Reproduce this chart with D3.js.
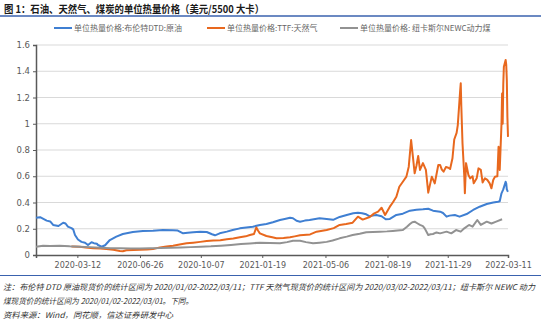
<!DOCTYPE html>
<html>
<head>
<meta charset="utf-8">
<script src="https://cdn.jsdelivr.net/npm/d3@7/dist/d3.min.js"></script>
<style>
  html, body { margin: 0; padding: 0; background: #fff; }
  svg { display: block; }
  text { font-family: "Noto Sans CJK SC", "Noto Sans", sans-serif; }
</style>
</head>
<body>
<svg id="chart" width="550" height="332"></svg>
<script>
// ---- data: per-unit-heat prices (USD per 5500 kcal) ----
const brentDates = ["2020-01-02","2020-01-09","2020-01-20","2020-01-26","2020-01-31","2020-02-09","2020-02-17","2020-02-21","2020-02-25","2020-03-02","2020-03-05","2020-03-08","2020-03-13","2020-03-19","2020-03-25","2020-03-30","2020-04-05","2020-04-09","2020-04-14","2020-04-16","2020-04-22","2020-04-28","2020-05-06","2020-05-17","2020-05-28","2020-06-14","2020-07-01","2020-07-18","2020-08-04","2020-08-21","2020-08-29","2020-09-07","2020-09-15","2020-09-24","2020-10-06","2020-10-17","2020-10-26","2020-10-31","2020-11-08","2020-11-20","2020-11-30","2020-12-12","2020-12-23","2021-01-03","2021-01-15","2021-01-26","2021-02-06","2021-02-18","2021-02-26","2021-03-07","2021-03-12","2021-03-18","2021-03-24","2021-04-01","2021-04-09","2021-04-26","2021-05-08","2021-05-19","2021-05-30","2021-06-11","2021-06-22","2021-06-30","2021-07-07","2021-07-14","2021-07-20","2021-07-25","2021-07-31","2021-08-09","2021-08-16","2021-08-23","2021-09-03","2021-09-14","2021-09-26","2021-10-07","2021-10-18","2021-10-27","2021-11-04","2021-11-16","2021-11-21","2021-11-27","2021-12-02","2021-12-11","2021-12-19","2021-12-31","2022-01-11","2022-01-22","2022-02-03","2022-02-14","2022-02-22","2022-02-25","2022-02-28","2022-03-03","2022-03-07","2022-03-08","2022-03-09","2022-03-10","2022-03-11"];
const brentValues = [0.283,0.288,0.262,0.256,0.229,0.221,0.246,0.240,0.216,0.205,0.195,0.152,0.118,0.100,0.094,0.076,0.097,0.090,0.086,0.076,0.063,0.074,0.114,0.140,0.160,0.176,0.183,0.185,0.190,0.188,0.186,0.165,0.170,0.173,0.178,0.175,0.158,0.150,0.165,0.178,0.190,0.203,0.210,0.216,0.228,0.236,0.250,0.267,0.275,0.284,0.280,0.261,0.254,0.262,0.267,0.280,0.275,0.268,0.290,0.305,0.318,0.322,0.318,0.310,0.295,0.300,0.305,0.295,0.272,0.275,0.305,0.315,0.338,0.345,0.348,0.352,0.338,0.330,0.320,0.292,0.300,0.305,0.292,0.312,0.343,0.368,0.389,0.400,0.406,0.410,0.470,0.500,0.558,0.545,0.500,0.490,0.482];

const ttfDates = ["2020-03-02","2020-03-16","2020-03-26","2020-04-08","2020-04-20","2020-04-30","2020-05-12","2020-05-23","2020-05-28","2020-06-03","2020-06-15","2020-06-26","2020-07-08","2020-07-18","2020-07-30","2020-08-10","2020-08-21","2020-09-01","2020-09-13","2020-09-24","2020-10-06","2020-10-17","2020-10-28","2020-11-09","2020-11-20","2020-12-01","2020-12-12","2020-12-22","2020-12-29","2021-01-05","2021-01-09","2021-01-12","2021-01-15","2021-01-26","2021-02-05","2021-02-12","2021-02-24","2021-03-07","2021-03-15","2021-03-24","2021-04-10","2021-04-21","2021-05-08","2021-05-20","2021-05-30","2021-06-10","2021-06-21","2021-06-30","2021-07-08","2021-07-20","2021-07-27","2021-08-03","2021-08-09","2021-08-15","2021-08-23","2021-08-28","2021-09-03","2021-09-08","2021-09-14","2021-09-20","2021-09-24","2021-09-28","2021-10-01","2021-10-04","2021-10-07","2021-10-10","2021-10-13","2021-10-18","2021-10-23","2021-10-27","2021-11-02","2021-11-07","2021-11-13","2021-11-16","2021-11-19","2021-11-22","2021-11-26","2021-11-30","2021-12-03","2021-12-07","2021-12-10","2021-12-14","2021-12-16","2021-12-20","2021-12-21","2021-12-22","2021-12-24","2021-12-27","2021-12-28","2021-12-30","2022-01-03","2022-01-06","2022-01-10","2022-01-12","2022-01-17","2022-01-20","2022-01-24","2022-01-27","2022-01-31","2022-02-04","2022-02-08","2022-02-11","2022-02-14","2022-02-17","2022-02-21","2022-02-23","2022-02-25","2022-02-28","2022-03-01","2022-03-02","2022-03-03","2022-03-04","2022-03-07","2022-03-08","2022-03-09","2022-03-10","2022-03-11"];
const ttfValues = [0.065,0.063,0.058,0.051,0.049,0.046,0.040,0.030,0.028,0.036,0.038,0.040,0.042,0.046,0.058,0.064,0.071,0.080,0.089,0.094,0.100,0.106,0.110,0.112,0.120,0.125,0.135,0.142,0.152,0.160,0.210,0.185,0.165,0.145,0.135,0.127,0.130,0.135,0.142,0.150,0.157,0.178,0.190,0.205,0.229,0.236,0.246,0.292,0.270,0.290,0.315,0.330,0.360,0.305,0.368,0.400,0.444,0.520,0.558,0.597,0.673,0.876,0.749,0.622,0.680,0.754,0.648,0.700,0.648,0.475,0.597,0.546,0.686,0.686,0.650,0.635,0.670,0.665,0.655,0.737,0.880,0.930,0.990,1.250,1.308,1.130,0.850,0.600,0.470,0.700,0.610,0.584,0.600,0.546,0.584,0.660,0.648,0.553,0.584,0.572,0.546,0.508,0.572,0.597,0.600,0.825,0.648,1.000,1.230,1.000,1.300,1.435,1.486,1.450,1.333,1.050,0.900];

const newcDates = ["2020-01-02","2020-01-14","2020-01-26","2020-02-11","2020-02-28","2020-03-16","2020-04-02","2020-04-20","2020-05-07","2020-05-23","2020-06-10","2020-06-26","2020-07-13","2020-07-30","2020-08-17","2020-09-03","2020-09-20","2020-10-07","2020-10-24","2020-11-10","2020-11-27","2020-12-14","2020-12-29","2021-01-15","2021-02-01","2021-02-18","2021-03-02","2021-03-12","2021-03-24","2021-04-03","2021-04-15","2021-04-26","2021-05-08","2021-05-18","2021-05-30","2021-06-11","2021-06-21","2021-07-03","2021-07-14","2021-07-25","2021-08-06","2021-08-18","2021-08-28","2021-09-05","2021-09-14","2021-09-21","2021-09-26","2021-09-30","2021-10-04","2021-10-09","2021-10-13","2021-10-18","2021-10-21","2021-10-27","2021-10-31","2021-11-04","2021-11-10","2021-11-16","2021-11-27","2021-12-05","2021-12-13","2021-12-21","2021-12-27","2022-01-04","2022-01-10","2022-01-18","2022-01-24","2022-02-03","2022-02-11","2022-02-19","2022-03-01"];
const newcValues = [0.063,0.070,0.068,0.071,0.066,0.063,0.060,0.056,0.052,0.051,0.049,0.049,0.052,0.053,0.056,0.058,0.060,0.063,0.066,0.071,0.077,0.084,0.088,0.094,0.092,0.089,0.098,0.109,0.108,0.098,0.089,0.094,0.100,0.110,0.127,0.140,0.152,0.162,0.173,0.176,0.178,0.180,0.183,0.186,0.190,0.215,0.236,0.250,0.254,0.240,0.229,0.220,0.203,0.152,0.158,0.160,0.172,0.165,0.178,0.165,0.190,0.178,0.203,0.229,0.216,0.267,0.229,0.254,0.240,0.254,0.272];

const seriesNames = ["单位热量价格:布伦特DTD:原油", "单位热量价格:TTF:天然气", "单位热量价格: 纽卡斯尔NEWC动力煤"];
const seriesColors = ["#3F7FD2", "#E8681E", "#929292"];

const xTickLabels = ["2020-03-12","2020-06-26","2020-10-07","2021-01-19","2021-05-06","2021-08-19","2021-11-29","2022-03-11"];
const yTicks = [0, 0.2, 0.4, 0.6, 0.8, 1, 1.2, 1.4, 1.6];

const titleText = "图 1：石油、天然气、煤炭的单位热量价格（美元/5500 大卡）";
const noteLines = [
  "注：布伦特 DTD 原油现货价的统计区间为 2020/01/02-2022/03/11；TTF 天然气现货价的统计区间为 2020/03/02-2022/03/11；纽卡斯尔 NEWC 动力",
  "煤现货价的统计区间为 2020/01/02-2022/03/01。下同。",
  "资料来源：Wind，同花顺，信达证券研发中心"
];

// ---- layout ----
const parse = d3.timeParse("%Y-%m-%d");
const plot = { left: 36, right: 508, top: 45, bottom: 255 };

const x = d3.scaleTime()
  .domain([parse("2020-01-02"), parse("2022-03-11")])
  .range([plot.left, plot.right]);
const y = d3.scaleLinear().domain([0, 1.6]).range([plot.bottom, plot.top]);

const svg = d3.select("#chart");

// title and rule under it
svg.append("text")
  .attr("x", 4).attr("y", 12.5)
  .attr("font-size", 10.5).attr("font-weight", "bold").attr("fill", "#1a1a1a")
  .attr("textLength", 260).attr("lengthAdjust", "spacingAndGlyphs")
  .text(titleText);
svg.append("line")
  .attr("x1", 0).attr("x2", 541).attr("y1", 16).attr("y2", 16)
  .attr("stroke", "#3A62AE").attr("stroke-width", 1.6);

// gridlines
svg.append("g").selectAll("line")
  .data(yTicks.filter(d => d > 0))
  .join("line")
  .attr("x1", plot.left).attr("x2", plot.right)
  .attr("y1", d => y(d)).attr("y2", d => y(d))
  .attr("stroke", "#D9D9D9").attr("stroke-width", 1);

// y axis
const yAxis = svg.append("g")
  .attr("transform", `translate(${plot.left},0)`)
  .call(d3.axisLeft(y).tickValues(yTicks).tickSize(3).tickPadding(3)
    .tickFormat(d => d === 0 ? "0" : d3.format("~g")(d)));
yAxis.select(".domain").attr("stroke", "#595959").attr("stroke-width", 1.5);
yAxis.selectAll(".tick line").attr("stroke", "#595959");
yAxis.selectAll(".tick text").attr("font-size", 8.5).attr("fill", "#595959")
  .style("font-family", "'DejaVu Sans', sans-serif");

// x axis
const xAxis = svg.append("g")
  .attr("transform", `translate(0,${plot.bottom})`)
  .call(d3.axisBottom(x).tickValues(xTickLabels.map(parse)).tickSize(3).tickPadding(4)
    .tickFormat(d3.timeFormat("%Y-%m-%d")));
xAxis.select(".domain").attr("stroke", "#595959").attr("stroke-width", 1.5);
xAxis.selectAll(".tick line").attr("stroke", "#595959");
xAxis.selectAll(".tick text").attr("font-size", 8).attr("fill", "#595959")
  .style("font-family", "'DejaVu Sans', sans-serif");

// series lines
const series = [
  { dates: brentDates, values: brentValues },
  { dates: ttfDates, values: ttfValues },
  { dates: newcDates, values: newcValues }
];
const line = d3.line().x(d => x(d[0])).y(d => y(d[1]));
series.forEach((s, i) => {
  const pts = s.dates.map((d, j) => [parse(d), s.values[j]]);
  svg.append("path")
    .attr("d", line(pts))
    .attr("fill", "none")
    .attr("stroke", seriesColors[i])
    .attr("stroke-width", 2)
    .attr("stroke-linejoin", "round");
});

// legend
const legendX = [54, 207, 340];
const legend = svg.append("g");
seriesNames.forEach((name, i) => {
  legend.append("line")
    .attr("x1", legendX[i]).attr("x2", legendX[i] + 18)
    .attr("y1", 28).attr("y2", 28)
    .attr("stroke", seriesColors[i]).attr("stroke-width", 2);
  legend.append("text")
    .attr("x", legendX[i] + 20).attr("y", 31)
    .attr("font-size", 8).attr("fill", "#666")
    .text(name);
});

// notes under the chart
svg.append("line")
  .attr("x1", 0).attr("x2", 541).attr("y1", 275.5).attr("y2", 275.5)
  .attr("stroke", "#3A62AE").attr("stroke-width", 1);
const noteY = [290, 304, 318];
const noteLen = [532, 190, 170];
noteLines.forEach((t, i) => {
  svg.append("text")
    .attr("x", 3).attr("y", noteY[i])
    .attr("font-size", 8).attr("font-style", "italic").attr("fill", "#333")
    .attr("textLength", noteLen[i]).attr("lengthAdjust", "spacingAndGlyphs")
    .text(t);
});
</script>
</body>
</html>
